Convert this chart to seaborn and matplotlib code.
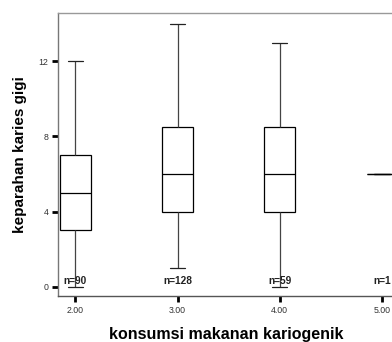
import matplotlib
matplotlib.use("Agg")
import matplotlib.pyplot as plt
import seaborn as sns
import pandas as pd

# Five-number summaries (min, Q1, median, Q3, max) per consumption group
groups = ["2.00", "3.00", "4.00", "5.00"]
summary_2 = [0, 3, 5, 7, 12]
summary_3 = [1, 4, 6, 8.5, 14]
summary_4 = [0, 4, 6, 8.5, 13]
summary_5 = [6]
counts = [90, 128, 59, 1]

rows = []
for g, vals in zip(groups, [summary_2, summary_3, summary_4, summary_5]):
    for v in vals:
        rows.append({"konsumsi": g, "karies": v})
df = pd.DataFrame(rows)

sns.set_style("white")
plt.rcParams["font.family"] = ["Liberation Sans", "DejaVu Sans"]
plt.rcParams["text.color"] = "black"
plt.rcParams["axes.labelcolor"] = "black"

fig = plt.figure(figsize=(3.92, 3.42), dpi=100)
ax = fig.add_axes([0.148, 0.135, 0.86, 0.827])

sns.boxplot(data=df, x="konsumsi", y="karies", order=groups, width=0.3,
            whis=3.0, color="white", linecolor="black", linewidth=0.9,
            fill=True, showfliers=False, ax=ax,
            whiskerprops={"color": "#444444"},
            capprops={"color": "#222222"})

for i, n in enumerate(counts):
    ax.text(i, 0.05, f"n={n}", ha="center", va="bottom",
            fontsize=7.3, fontweight="bold", color="#222222")

ax.set_xlim(-0.17, 3.13)
ax.set_ylim(-0.48, 14.57)
ax.set_yticks([0, 4, 8, 12])
ax.set_yticklabels(["0", "4", "8", "12"])
ax.tick_params(axis="both", which="major", direction="out", length=4,
               width=2, color="black", labelsize=6.3, labelcolor="#333333",
               pad=3, left=True, bottom=True)

for side in ["top", "left", "bottom"]:
    ax.spines[side].set_visible(True)
    ax.spines[side].set_linewidth(1.0)
ax.spines["top"].set_color("#999999")
ax.spines["left"].set_color("#777777")
ax.spines["bottom"].set_color("#555555")
ax.spines["right"].set_visible(False)

ax.set_xlabel("konsumsi makanan kariogenik", fontsize=11.5,
              fontweight="bold", labelpad=9)
ax.set_ylabel("keparahan karies gigi", fontsize=11,
              fontweight="bold", labelpad=8)

fig.savefig("out.png", dpi=100)
